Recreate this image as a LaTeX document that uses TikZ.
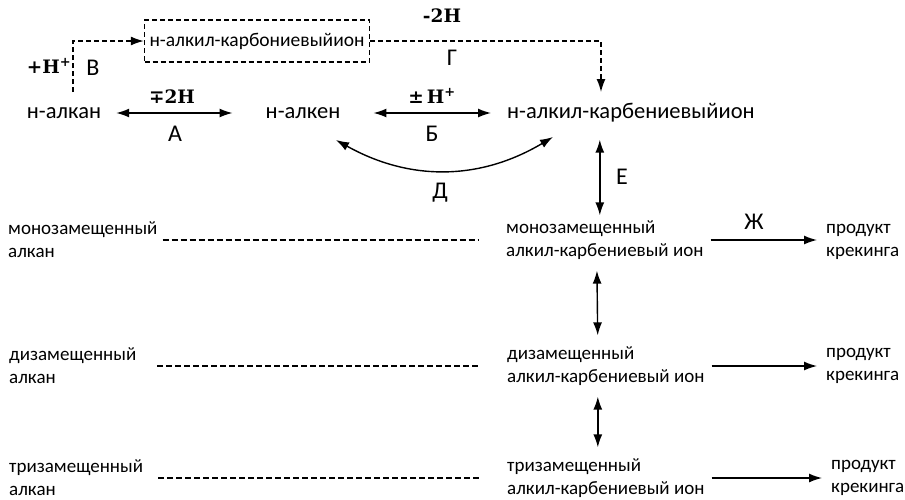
\documentclass[tikz,border=0pt]{standalone}
\usepackage{fontspec}
\setmainfont{Carlito}
\newfontfamily\serifl{DejaVu Serif}
\usetikzlibrary{arrows.meta,positioning}

\begin{document}
\begin{tikzpicture}[x=1pt,y=-1pt,
  big/.style={font=\fontsize{22.5}{26}\selectfont, inner sep=1pt},
  row/.style={font=\fontsize{19}{23}\selectfont, align=left, anchor=west, inner sep=1pt},
  lbl/.style={font=\fontsize{24}{28}\selectfont},
  chem/.style={font=\serifl\bfseries\fontsize{18.5}{22}\selectfont},
  fwd/.style={-{Latex[length=13pt,width=9pt]}, line width=1.4pt},
  dbl/.style={{Latex[length=13pt,width=9pt]}-{Latex[length=13pt,width=9pt]}, line width=1.4pt},
  dsh/.style={line width=1.4pt, dash pattern=on 5pt off 3pt}
]
\useasboundingbox (0,0) rectangle (905,499);

% top line
\node[big] (alkane) at (64, 113) {н-алкан};
\node[big] (alkene) at (303, 113) {н-алкен};
\node[big, anchor=west] (carb) at (506, 113) {н-алкил-карбениевыйион};
\node[draw, dsh, font=\fontsize{19.5}{23}\selectfont, inner sep=1pt, minimum width=225pt, minimum height=42pt] (boxion) at (257, 41) {н-алкил-карбониевыйион};

\draw[dbl, shorten <=14pt, shorten >=32pt] (alkane) -- (alkene);
\node[chem] at (172, 97) {∓2H};
\node[lbl] at (175, 134) {А};
\draw[dbl, shorten <=32pt, shorten >=15pt] (alkene.east) -- (carb.west);
\node[chem] at (432, 96) {±\,H\textsuperscript{+}};
\node[lbl] at (432, 134) {Б};

% dashed route through the carbonium ion
\coordinate (vlow) at (73, 92);
\coordinate (gend) at (601, 92);
\draw[dsh, -{Latex[length=13pt,width=9pt]}] (vlow) |- (boxion.west);
\node[chem] at (49, 66) {+H\textsuperscript{+}};
\node[lbl] at (93, 68) {В};
\draw[dsh, -{Latex[length=13pt,width=9pt]}] (boxion.east) -| (gend);
\node[chem] at (442, 16) {-2H};
\node[lbl] at (452, 58) {Г};

% alkene <-> carbenium ion
\coordinate (d1) at (336, 140);
\coordinate (d2) at (553, 137);
\draw[dbl] (d1) to[bend right=30] (d2);
\node[lbl] at (440, 193) {Д};

% substituted rows
\node[row] (mono) at (7, 240) {монозамещенный\\алкан};
\node[row] (monoion) at (505, 240) {монозамещенный\\алкил-карбениевый ион};
\node[row] (monoprod) at (825, 242) {продукт\\крекинга};
\node[row] (di) at (8, 366) {дизамещенный\\алкан};
\node[row] (diion) at (506, 366) {дизамещенный\\алкил-карбениевый ион};
\node[row] (diprod) at (825, 366) {продукт\\крекинга};
\node[row] (tri) at (8, 478) {тризамещенный\\алкан};
\node[row] (triion) at (506, 478) {тризамещенный\\алкил-карбениевый ион};
\node[row] (triprod) at (830, 478) {продукт\\крекинга};

\draw[dbl, shorten <=4pt, shorten >=16pt] ([xshift=-5pt]monoion.north) -- ([xshift=-5pt]monoion.north |- carb.south);
\node[lbl] at (622, 177) {Е};
\draw[dbl, shorten <=10pt, shorten >=10pt] ([xshift=-8pt]monoion.south) -- ([xshift=-8pt]diion.north);
\draw[dbl, shorten <=10pt, shorten >=10pt] ([xshift=-8pt]diion.south) -- ([xshift=-8pt]triion.north);

\foreach \a/\b/\s in {mono/monoion/4, di/diion/20, tri/triion/14}
  \draw[line width=1.4pt, dash pattern=on 6pt off 3pt, shorten <=\s pt, shorten >=26pt] (\a) -- (\b);
\foreach \a/\b in {monoion/monoprod, diion/diprod, triion/triprod}
  \draw[fwd, shorten <=6pt, shorten >=8pt] (\a.east) -- (\a.east -| \b.west);
\node[lbl] at (754, 222) {Ж};
\end{tikzpicture}
\end{document}
